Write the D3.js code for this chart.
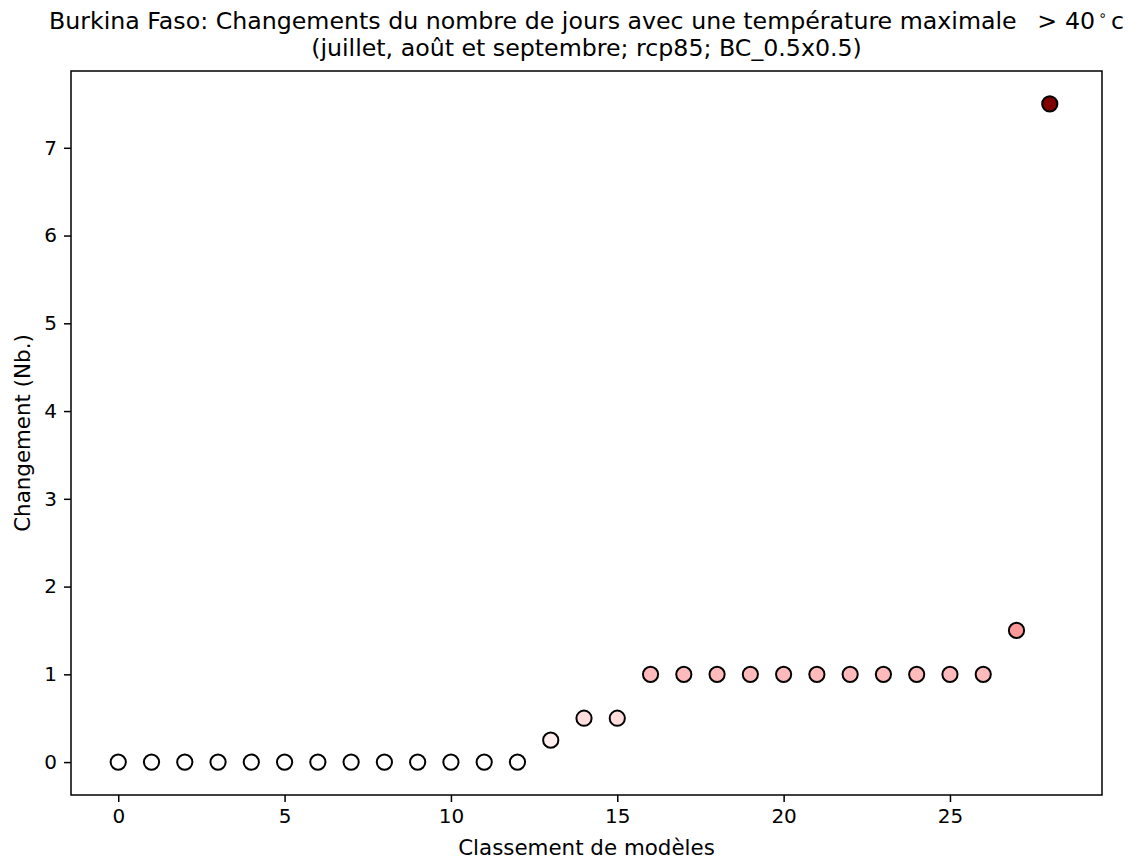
<!DOCTYPE html>
<html><head><meta charset="utf-8">
<script src="https://cdn.jsdelivr.net/npm/d3@7"></script>
<style>body{margin:0;background:#fff;} text{font-family:"DejaVu Sans",sans-serif;fill:#000;}</style>
</head><body>
<script>
const ranks = d3.range(0, 29);
const values = [0,0,0,0,0,0,0,0,0,0,0,0,0,0.25,0.5,0.5,1,1,1,1,1,1,1,1,1,1,1,1.5,7.5];
const xTicks = [0,5,10,15,20,25];
const yTicks = [0,1,2,3,4,5,6,7];
const titleLine1 = "Burkina Faso: Changements du nombre de jours avec une température maximale ";
const titleMath = [">", "40"];
const titleLine2 = "(juillet, août et septembre; rcp85; BC_0.5x0.5)";
const xLabel = "Classement de modèles";
const yLabel = "Changement (Nb.)";

const W = 1143, H = 861;
const L = 71, R = 1102, T = 71, B = 795;
const svg = d3.select("body").append("svg").attr("width", W).attr("height", H);

const x = d3.scaleLinear().domain([-1.42, 29.57]).range([L, R]);
const y = d3.scaleLinear().domain([-0.375, 7.875]).range([B, T]);
const color = d3.scaleLinear().domain([0, 3.75, 7.5]).range(["#ffffff", "#ff0000", "#800000"]);

const xAxis = svg.append("g").attr("transform", `translate(0,${B})`)
  .call(d3.axisBottom(x).tickValues(xTicks).tickSize(7).tickPadding(7).tickFormat(d3.format("d")));
const yAxis = svg.append("g").attr("transform", `translate(${L},0)`)
  .call(d3.axisLeft(y).tickValues(yTicks).tickSize(7).tickPadding(7).tickFormat(d3.format("d")));
[xAxis, yAxis].forEach(g => {
  g.select(".domain").remove();
  g.selectAll("line").attr("stroke", "#000").attr("stroke-width", 1.5);
  g.selectAll("text").style("font-size", "20px").style("font-family", "DejaVu Sans");
});

svg.append("rect").attr("x", L).attr("y", T).attr("width", R - L).attr("height", B - T)
  .attr("fill", "none").attr("stroke", "#000").attr("stroke-width", 1.5);

svg.append("g").selectAll("circle").data(ranks).join("circle")
  .attr("cx", d => x(d)).attr("cy", (d, i) => y(values[i]))
  .attr("r", 7.6).attr("fill", (d, i) => color(values[i]))
  .attr("stroke", "#000").attr("stroke-width", 2);

const t1 = svg.append("text").attr("x", (L + R) / 2).attr("y", 28.5).attr("text-anchor", "middle").style("font-size", "23.7px");
t1.append("tspan").text(titleLine1);
t1.append("tspan").attr("dx", 13).text(titleMath[0]);
t1.append("tspan").attr("dx", 8).text(titleMath[1]);
t1.append("tspan").attr("dy", -9).attr("dx", 3).style("font-size", "14px").text("∘");
t1.append("tspan").attr("dy", 9).attr("dx", 4).text("c");
svg.append("text").attr("x", (L + R) / 2).attr("y", 55.5).attr("text-anchor", "middle").style("font-size", "23.7px").text(titleLine2);

svg.append("text").attr("x", (L + R) / 2).attr("y", 855).attr("text-anchor", "middle").style("font-size", "21.4px").text(xLabel);
svg.append("text").attr("transform", `translate(29.5,${(T + B) / 2}) rotate(-90)`).attr("text-anchor", "middle").style("font-size", "21.4px").text(yLabel);
</script>
</body></html>
